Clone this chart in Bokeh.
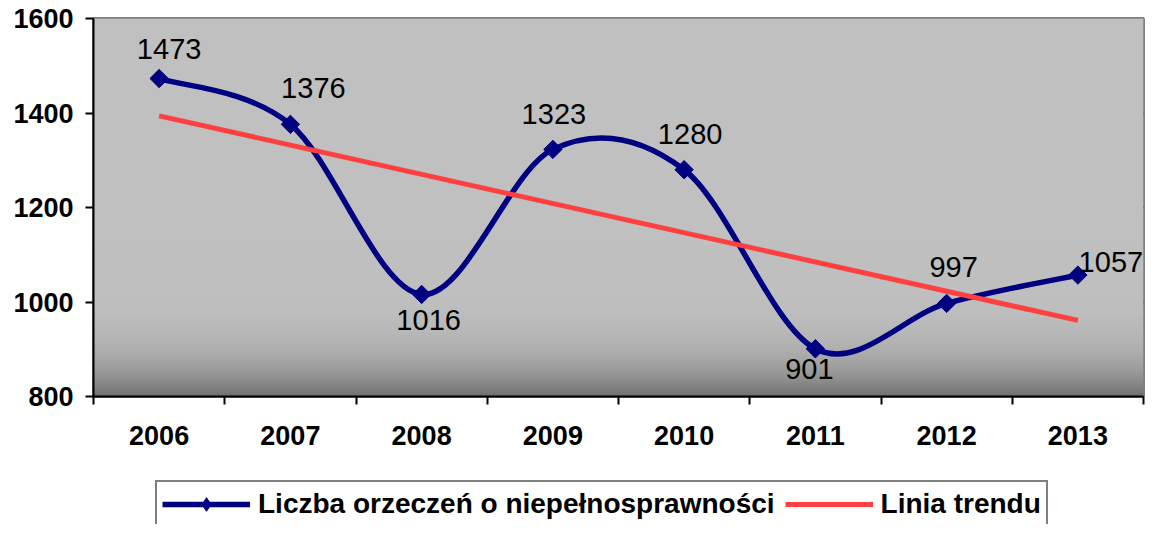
import numpy as np
from bokeh.plotting import figure
from bokeh.layouts import column
from bokeh.models import (Range1d, FixedTicker, CustomJSTickFormatter, Legend,
                          LegendItem, ColumnDataSource)
from bokeh.embed import file_html
from bokeh.resources import INLINE
from bokeh.core.properties import value

# ---- data ----
years = ["2006", "2007", "2008", "2009", "2010", "2011", "2012", "2013"]
counts = [1473, 1376, 1016, 1323, 1280, 901, 997, 1057]
trend_ends = [1394, 961]          # linear trend line at 2006 and 2013
y_ticks = [800, 1000, 1200, 1400, 1600]
series_name = "Liczba orzeczeń o niepełnosprawności"
trend_name = "Linia trendu"

# label placement (screen px offsets from each point)
label_dx = [10, 23, 7, 1, 6, -6, 7, 33]
label_dy = [-30, -36, 26, -35, -36, 20, -36, -13]

FONT = "Liberation Sans"
NAVY = "#000080"
RED = "#FF4040"

x = np.arange(len(years)) + 0.5
y = np.array(counts, dtype=float)
trend_x = [x[0], x[-1]]

# Excel-style smoothed line: Catmull-Rom tangents -> cubic Bezier segments
xp = np.concatenate([[x[0]], x, [x[-1]]])
yp = np.concatenate([[y[0]], y, [y[-1]]])
mx = (xp[2:] - xp[:-2]) / 2.0
my = (yp[2:] - yp[:-2]) / 2.0
bez = ColumnDataSource(dict(
    x0=x[:-1], y0=y[:-1], x1=x[1:], y1=y[1:],
    cx0=x[:-1] + mx[:-1] / 3.0, cy0=y[:-1] + my[:-1] / 3.0,
    cx1=x[1:] - mx[1:] / 3.0, cy1=y[1:] - my[1:] / 3.0,
))
pts = ColumnDataSource(dict(x=x, y=y, txt=[str(v) for v in counts],
                            dx=label_dx, dy=label_dy))

p = figure(width=1146, height=480,
           x_range=Range1d(0, len(years)), y_range=Range1d(y_ticks[0], y_ticks[-1]),
           output_backend="svg", toolbar_location=None,
           min_border_left=93, min_border_right=3, min_border_top=18,
           min_border_bottom=84)
p.background_fill_color = "#C0C0C0"
p.border_fill_color = "white"
p.outline_line_color = "#808080"
p.outline_line_width = 3

# gradient background (plot area)
N = 378
frac_top = 1.0 - (np.arange(N) + 0.5) / N
c = 192 - 82 * np.clip((frac_top - 0.6) / 0.4, 0, 1) ** 4.2
img = np.empty((N, 1), dtype=np.uint32)
view = img.view(dtype=np.uint8).reshape((N, 1, 4))
view[:, 0, 0] = c
view[:, 0, 1] = c
view[:, 0, 2] = c
view[:, 0, 3] = 255
p.image_rgba(image=[img], x=0, y=y_ticks[0], dw=len(years), dh=y_ticks[-1] - y_ticks[0])

# grid
p.xgrid.grid_line_color = None
p.ygrid.ticker = FixedTicker(ticks=y_ticks[1:-1])
p.ygrid.grid_line_color = "black"
p.ygrid.grid_line_width = 2

# axes
for ax in (p.xaxis[0], p.yaxis[0]):
    ax.axis_line_color = "black"
    ax.axis_line_width = 2
    ax.major_label_text_font = FONT
    ax.major_label_text_font_style = "bold"
    ax.major_label_text_font_size = "27px"
    ax.major_label_text_color = "black"

p.yaxis.ticker = FixedTicker(ticks=y_ticks)
p.yaxis.major_tick_out = 8
p.yaxis.major_tick_in = 0
p.yaxis.major_tick_line_width = 2
p.yaxis.major_tick_line_color = "black"
p.yaxis.minor_tick_line_color = None
p.yaxis.major_label_standoff = 12

p.xaxis.ticker = FixedTicker(ticks=list(x), minor_ticks=list(range(len(years) + 1)))
p.xaxis.formatter = CustomJSTickFormatter(args=dict(labels=years),
                                          code="return labels[Math.floor(tick)];")
p.xaxis.major_tick_line_color = None
p.xaxis.minor_tick_out = 8
p.xaxis.minor_tick_in = 0
p.xaxis.minor_tick_line_width = 2
p.xaxis.minor_tick_line_color = "black"
p.xaxis.major_label_standoff = 21

# series
p.bezier(x0="x0", y0="y0", x1="x1", y1="y1", cx0="cx0", cy0="cy0",
         cx1="cx1", cy1="cy1", source=bez, line_color=NAVY, line_width=5.5)
p.scatter(x="x", y="y", source=pts, marker="square", size=13,
          angle=np.pi / 4, fill_color=NAVY, line_color=NAVY)
p.line(x=trend_x, y=trend_ends, line_color=RED, line_width=5)

p.text(x="x", y="y", text="txt", source=pts, x_offset="dx", y_offset="dy",
       text_align="center", text_baseline="middle",
       text_font=value(FONT), text_font_size="29px", text_color="black")

# ---- legend strip below the chart (its glyph renderers lie outside its view) ----
q = figure(width=1146, height=44, x_range=Range1d(0, 1), y_range=Range1d(0, 1),
           x_axis_type=None, y_axis_type=None, output_backend="svg",
           toolbar_location=None, min_border=0)
q.outline_line_color = None
q.grid.grid_line_color = None
q.background_fill_color = "white"
q.border_fill_color = "white"
lg_line = q.line(x="x", y="y", source=pts, line_color=NAVY, line_width=5.5)
lg_mark = q.scatter(x="x", y="y", source=pts, marker="diamond", size=13,
                    fill_color=NAVY, line_color=NAVY)
lg_trend = q.line(x=trend_x, y=trend_ends, line_color=RED, line_width=5)

legend = Legend(items=[LegendItem(label=series_name, renderers=[lg_line, lg_mark]),
                       LegendItem(label=trend_name, renderers=[lg_trend])],
                orientation="horizontal", location=(62, -4))
legend.label_text_font = FONT
legend.label_text_font_style = "bold"
legend.label_text_font_size = "28px"
legend.label_text_color = "black"
legend.glyph_width = 88
legend.glyph_height = 34
legend.label_standoff = 8
legend.spacing = 10
legend.padding = 5
legend.margin = 0
legend.border_line_color = "black"
legend.border_line_width = 2
legend.background_fill_color = "white"
legend.background_fill_alpha = 1
q.add_layout(legend)

layout = column(p, q, spacing=0)
open("out.html", "w").write(file_html(layout, INLINE))
